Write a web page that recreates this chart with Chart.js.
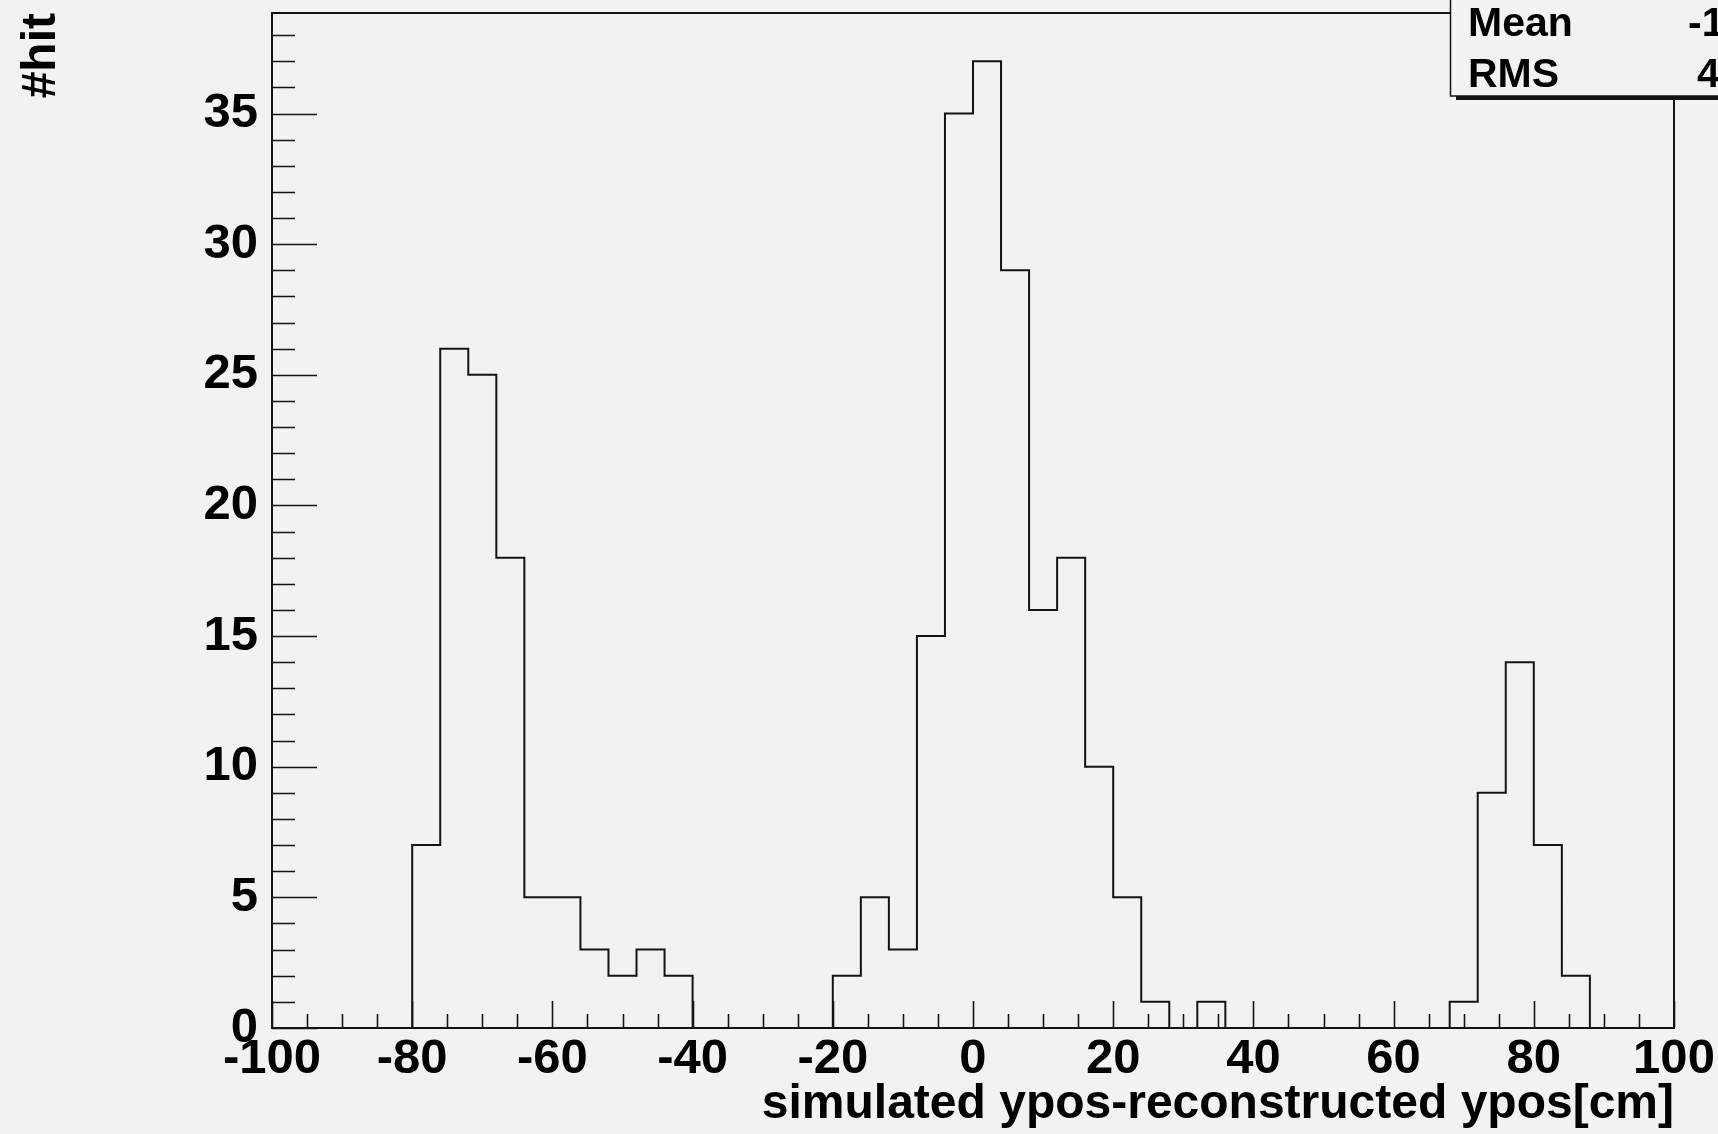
<!DOCTYPE html>
<html>
<head>
<meta charset="utf-8">
<script src="https://cdn.jsdelivr.net/npm/chart.js@4"></script>
<style>
  html, body { margin: 0; padding: 0; background: #f2f2f2; }
  #wrap { width: 1718px; height: 1134px; position: relative; }
  canvas { display: block; }
</style>
</head>
<body>
<div id="wrap"><canvas id="c" width="1718" height="1134"></canvas></div>
<script>
// ---- data ----
const binLowEdges = [-100, -96, -92, -88, -84, -80, -76, -72, -68, -64,
                     -60, -56, -52, -48, -44, -40, -36, -32, -28, -24,
                     -20, -16, -12, -8, -4, 0, 4, 8, 12, 16,
                     20, 24, 28, 32, 36, 40, 44, 48, 52, 56,
                     60, 64, 68, 72, 76, 80, 84, 88, 92, 96];
const binUpperEdge = 100;
const counts = [0, 0, 0, 0, 0, 7, 26, 25, 18, 5,
                5, 3, 2, 3, 2, 0, 0, 0, 0, 0,
                2, 5, 3, 15, 35, 37, 29, 16, 18, 10,
                5, 1, 0, 1, 0, 0, 0, 0, 0, 0,
                0, 0, 1, 9, 14, 7, 2, 0, 0, 0];
const xTickValues = [-100, -80, -60, -40, -20, 0, 20, 40, 60, 80, 100];
const yTickValues = [0, 5, 10, 15, 20, 25, 30, 35];
const xTitle = 'simulated ypos-reconstructed ypos[cm]';
const yTitle = '#hit';
const statsLabels = ['Mean', 'RMS'];
const statsValues = ['-10.47', '45.36'];

// ---- styling constants ----
const X_MIN = -100, X_MAX = 100, Y_MIN = 0, Y_MAX = 38.85;
const X_MINOR_STEP = 5, Y_MINOR_STEP = 1;
const FONT = '"Liberation Sans", Arial, Helvetica, sans-serif';
const INK = '#141414';
const BG = '#f2f2f2';

const points = binLowEdges.map((e, i) => ({ x: e, y: counts[i] }));
points.push({ x: binUpperEdge, y: counts[counts.length - 1] });

const rootFrame = {
  id: 'rootFrame',
  beforeDraw(chart) {
    const ctx = chart.ctx;
    ctx.save();
    ctx.fillStyle = BG;
    ctx.fillRect(0, 0, chart.width, chart.height);
    ctx.restore();
  },
  afterDatasetsDraw(chart) {
    const ctx = chart.ctx;
    const a = chart.chartArea;
    const xs = chart.scales.x, ys = chart.scales.y;
    ctx.save();
    ctx.strokeStyle = INK;
    ctx.lineWidth = 1.6;
    ctx.beginPath();
    for (let v = Y_MIN; v <= Y_MAX; v += Y_MINOR_STEP) {
      const py = Math.round(ys.getPixelForValue(v)) + 0.5;
      const len = yTickValues.includes(v) ? 45 : 23;
      ctx.moveTo(a.left, py); ctx.lineTo(a.left + len, py);
    }
    for (let v = X_MIN; v <= X_MAX; v += X_MINOR_STEP) {
      const px = Math.round(xs.getPixelForValue(v)) + 0.5;
      const len = xTickValues.includes(v) ? 27 : 14;
      ctx.moveTo(px, a.bottom); ctx.lineTo(px, a.bottom - len);
    }
    ctx.stroke();
    ctx.lineWidth = 2;
    ctx.strokeRect(a.left, a.top, a.right - a.left, a.bottom - a.top);
    ctx.restore();
  },
  afterDraw(chart) {
    const ctx = chart.ctx;
    ctx.save();
    const bx = 1450, by = -4, bw = 400, bh = 100;
    ctx.fillStyle = INK;
    ctx.fillRect(bx + 6, by + 4, bw, bh);
    ctx.fillStyle = BG;
    ctx.fillRect(bx, by, bw, bh);
    ctx.strokeStyle = INK;
    ctx.lineWidth = 1.5;
    ctx.strokeRect(bx + 0.5, by, bw, bh);
    ctx.fillStyle = '#000';
    ctx.font = 'bold 41px ' + FONT;
    ctx.textBaseline = 'alphabetic';
    ctx.textAlign = 'left';
    ctx.fillText(statsLabels[0], 1468, 36);
    ctx.fillText(statsLabels[1], 1468, 87);
    ctx.fillText(statsValues[0], 1688, 36);
    ctx.fillText(statsValues[1], 1697, 87);
    ctx.restore();
  }
};

new Chart(document.getElementById('c'), {
  type: 'line',
  data: {
    datasets: [{
      data: points,
      stepped: 'before',
      borderColor: INK,
      borderWidth: 2,
      pointRadius: 0,
      fill: false,
      tension: 0
    }]
  },
  options: {
    responsive: false,
    animation: false,
    devicePixelRatio: 1,
    layout: { padding: { left: 0, top: 13, right: 44, bottom: 0 } },
    plugins: { legend: { display: false }, tooltip: { enabled: false } },
    scales: {
      x: {
        type: 'linear',
        min: X_MIN, max: X_MAX,
        grid: { display: false, drawTicks: false, tickLength: 0 },
        border: { display: false },
        afterBuildTicks(scale) { scale.ticks = xTickValues.map(v => ({ value: v })); },
        afterFit(scale) {
          scale.height = 106;
          scale.paddingLeft = 0; scale.paddingRight = 0; scale.paddingTop = 0; scale.paddingBottom = 0;
        },
        ticks: {
          autoSkip: false, maxRotation: 0, minRotation: 0,
          padding: 2,
          color: '#000',
          font: { family: FONT, size: 49, weight: 'bold', lineHeight: 1.2 },
          callback: v => String(v)
        },
        title: {
          display: true, text: xTitle, align: 'end',
          color: '#000',
          padding: { top: 0, bottom: 0 },
          font: { family: FONT, size: 48, weight: 'bold', lineHeight: 1.2 }
        }
      },
      y: {
        type: 'linear',
        min: Y_MIN, max: Y_MAX,
        grid: { display: false, drawTicks: false, tickLength: 0 },
        border: { display: false },
        afterBuildTicks(scale) { scale.ticks = yTickValues.map(v => ({ value: v })); },
        afterFit(scale) {
          scale.width = 272;
          scale.paddingLeft = 0; scale.paddingRight = 0; scale.paddingTop = 0; scale.paddingBottom = 0;
        },
        ticks: {
          autoSkip: false,
          padding: 14,
          color: '#000',
          font: { family: FONT, size: 49, weight: 'bold', lineHeight: 1.2 },
          callback: v => String(v)
        },
        title: {
          display: true, text: yTitle, align: 'end',
          color: '#000',
          padding: { top: 13, bottom: 0 },
          font: { family: FONT, size: 48, weight: 'bold', lineHeight: 1.2 }
        }
      }
    }
  },
  plugins: [rootFrame]
});
</script>
</body>
</html>
